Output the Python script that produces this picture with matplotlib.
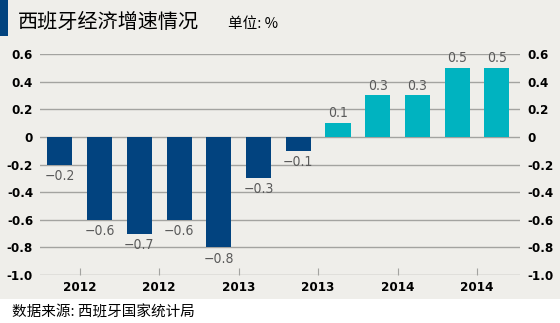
import matplotlib.pyplot as plt
from matplotlib.patches import Rectangle

plt.rcParams['font.family'] = ['Noto Sans CJK SC', 'DejaVu Sans']

# quarterly GDP growth, %
values = [-0.2, -0.6, -0.7, -0.6, -0.8, -0.3, -0.1, 0.1, 0.3, 0.3, 0.5, 0.5]
year_labels = ['2012', '2012', '2013', '2013', '2014', '2014']
yticks = [0.6, 0.4, 0.2, 0, -0.2, -0.4, -0.6, -0.8, -1.0]

neg_color = '#02437f'
pos_color = '#00b3c0'
panel = '#efeeea'
num_font = ['DejaVu Sans']

fig = plt.figure(figsize=(5.6, 3.23), dpi=100)
fig.patch.set_facecolor('white')

# gray panel behind title and chart, white strip for the source line
fig.add_artist(Rectangle((0, 1 - 299 / 323), 1, 299 / 323, transform=fig.transFigure,
                         facecolor=panel, edgecolor='none', zorder=0))
fig.add_artist(Rectangle((0, 1 - 36 / 323), 8 / 560, 36 / 323, transform=fig.transFigure,
                         facecolor=neg_color, edgecolor='none', zorder=1))
fig.text(18 / 560, 1 - 22 / 323, '西班牙经济增速情况', fontsize=14.5, va='center', ha='left',
         fontweight='medium')
fig.text(228 / 560, 1 - 24 / 323, '单位: %', fontsize=10.5, va='center', ha='left')
fig.text(12 / 560, 1 - 312 / 323, '数据来源: 西班牙国家统计局', fontsize=10.5, va='center', ha='left')

ax = fig.add_axes([40 / 560, 1 - 275 / 323, 480 / 560, 221 / 323])
ax.set_facecolor('none')
for s in ax.spines.values():
    s.set_visible(False)

x = list(range(len(values)))
colors = [neg_color if v < 0 else pos_color for v in values]
ax.bar(x, values, width=0.63, color=colors, zorder=3)

for xi, v in zip(x, values):
    txt = ('%.1f' % v).replace('-', '\u2212')
    off = 0.02 if v > 0 else -0.03
    ax.text(xi, v + off, txt, ha='center', va='bottom' if v > 0 else 'top',
            fontsize=10, color='#5a5a5a', family=num_font, fontstretch='condensed',
            clip_on=False)

ax.set_xlim(-0.5, 11.58)
ax.set_ylim(-1.0, 0.6)
for y in yticks:
    ax.axhline(y, color='#a3a3a0', lw=1.0, zorder=1)

ax.set_yticks(yticks)
ylabels = ['%.1f' % y if y != 0 else '0' for y in yticks]
ax.set_yticklabels(ylabels)
ax.tick_params(axis='y', length=0, pad=5, labelleft=True, labelright=True)
for lab in ax.get_yticklabels():
    lab.set_fontfamily(num_font)
    lab.set_fontweight('bold')
    lab.set_fontstretch('condensed')
    lab.set_fontsize(9.5)

ax.set_xticks([0.5, 2.5, 4.5, 6.5, 8.5, 10.5])
ax.set_xticklabels(year_labels)
ax.tick_params(axis='x', direction='in', length=5, width=0.8, color='#a3a3a0', pad=4)
for lab in ax.get_xticklabels():
    lab.set_fontfamily(num_font)
    lab.set_fontweight('bold')
    lab.set_fontstretch('condensed')
    lab.set_fontsize(9.5)

fig.savefig('out.png', dpi=100, facecolor=fig.get_facecolor())
